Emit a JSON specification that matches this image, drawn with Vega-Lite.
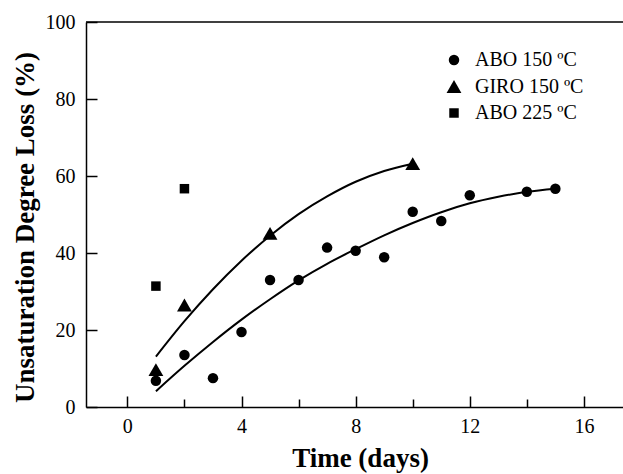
{
  "$schema": "https://vega.github.io/schema/vega-lite/v6.json",
  "width": 537,
  "height": 385,
  "autosize": {"type": "none"},
  "padding": {"left": 86, "top": 22, "right": 0, "bottom": 67},
  "config": {
    "view": {"stroke": null},
    "font": "Liberation Serif",
    "axis": {
      "domainColor": "black",
      "domainWidth": 1.5,
      "tickColor": "black",
      "tickWidth": 1.5,
      "labelColor": "black",
      "labelFontSize": 20,
      "titleFontWeight": "bold",
      "titleColor": "black",
      "grid": false
    }
  },
  "datasets": {
    "points": [
      {"series": "ABO 150 ºC", "time": 1, "loss": 6.8},
      {"series": "ABO 150 ºC", "time": 2, "loss": 13.5},
      {"series": "ABO 150 ºC", "time": 3, "loss": 7.5},
      {"series": "ABO 150 ºC", "time": 4, "loss": 19.5},
      {"series": "ABO 150 ºC", "time": 5, "loss": 33.0},
      {"series": "ABO 150 ºC", "time": 6, "loss": 33.0},
      {"series": "ABO 150 ºC", "time": 7, "loss": 41.4},
      {"series": "ABO 150 ºC", "time": 8, "loss": 40.6},
      {"series": "ABO 150 ºC", "time": 9, "loss": 38.9},
      {"series": "ABO 150 ºC", "time": 10, "loss": 50.7},
      {"series": "ABO 150 ºC", "time": 11, "loss": 48.3},
      {"series": "ABO 150 ºC", "time": 12, "loss": 55.0},
      {"series": "ABO 150 ºC", "time": 14, "loss": 55.9},
      {"series": "ABO 150 ºC", "time": 15, "loss": 56.7},
      {"series": "GIRO 150 ºC", "time": 1, "loss": 9.7},
      {"series": "GIRO 150 ºC", "time": 2, "loss": 26.5},
      {"series": "GIRO 150 ºC", "time": 5, "loss": 45.1},
      {"series": "GIRO 150 ºC", "time": 10, "loss": 63.2},
      {"series": "ABO 225 ºC", "time": 1, "loss": 31.4},
      {"series": "ABO 225 ºC", "time": 2, "loss": 56.7}
    ],
    "fits": [
      {"series": "ABO 150 ºC", "time": 1, "loss": 4.1},
      {"series": "ABO 150 ºC", "time": 2, "loss": 10.7},
      {"series": "ABO 150 ºC", "time": 3, "loss": 16.9},
      {"series": "ABO 150 ºC", "time": 4, "loss": 22.7},
      {"series": "ABO 150 ºC", "time": 5, "loss": 28.0},
      {"series": "ABO 150 ºC", "time": 6, "loss": 32.9},
      {"series": "ABO 150 ºC", "time": 7, "loss": 37.2},
      {"series": "ABO 150 ºC", "time": 8, "loss": 41.0},
      {"series": "ABO 150 ºC", "time": 9, "loss": 44.6},
      {"series": "ABO 150 ºC", "time": 10, "loss": 47.8},
      {"series": "ABO 150 ºC", "time": 11, "loss": 50.6},
      {"series": "ABO 150 ºC", "time": 12, "loss": 52.9},
      {"series": "ABO 150 ºC", "time": 13, "loss": 54.6},
      {"series": "ABO 150 ºC", "time": 14, "loss": 55.9},
      {"series": "ABO 150 ºC", "time": 15, "loss": 56.7},
      {"series": "GIRO 150 ºC", "time": 1, "loss": 13.1},
      {"series": "GIRO 150 ºC", "time": 2, "loss": 22.3},
      {"series": "GIRO 150 ºC", "time": 3, "loss": 30.6},
      {"series": "GIRO 150 ºC", "time": 4, "loss": 38.0},
      {"series": "GIRO 150 ºC", "time": 5, "loss": 44.5},
      {"series": "GIRO 150 ºC", "time": 6, "loss": 50.1},
      {"series": "GIRO 150 ºC", "time": 7, "loss": 54.7},
      {"series": "GIRO 150 ºC", "time": 8, "loss": 58.5},
      {"series": "GIRO 150 ºC", "time": 9, "loss": 61.3},
      {"series": "GIRO 150 ºC", "time": 10, "loss": 63.2}
    ],
    "frame": [{"top": 100}]
  },
  "layer": [
    {
      "data": {"name": "frame"},
      "mark": {"type": "rule", "color": "black", "strokeWidth": 1.5},
      "encoding": {
        "y": {"field": "top", "type": "quantitative", "scale": {"domain": [0, 100], "nice": false}}
      }
    },
    {
      "data": {"name": "fits"},
      "mark": {"type": "line", "color": "black", "strokeWidth": 2, "interpolate": "monotone"},
      "encoding": {
        "x": {"field": "time", "type": "quantitative"},
        "y": {"field": "loss", "type": "quantitative"},
        "detail": {"field": "series"}
      }
    },
    {
      "data": {"name": "points"},
      "mark": {"type": "point", "filled": true, "color": "black", "opacity": 1},
      "encoding": {
        "x": {
          "field": "time",
          "type": "quantitative",
          "scale": {"domain": [-1.45, 17.37], "nice": false, "zero": false},
          "axis": {
            "title": "Time (days)",
            "values": [0, 2, 4, 6, 8, 10, 12, 14, 16],
            "labelExpr": "datum.value % 4 === 0 ? datum.label : ''",
            "tickSize": {"condition": {"test": "datum.value % 4 === 0", "value": -11}, "value": -8},
            "labelPadding": 20,
            "titleFontSize": 27,
            "titleX": 274,
            "titleY": 59,
            "titleBaseline": "alphabetic"
          }
        },
        "y": {
          "field": "loss",
          "type": "quantitative",
          "scale": {"domain": [0, 100], "nice": false},
          "axis": {
            "title": "Unsaturation Degree Loss (%)",
            "values": [0, 10, 20, 30, 40, 50, 60, 70, 80, 90, 100],
            "labelExpr": "datum.value % 20 === 0 ? datum.label : ''",
            "tickSize": {"condition": {"test": "datum.value % 20 === 0", "value": -11}, "value": -7},
            "labelPadding": 22,
            "titleFontSize": 27,
            "titleX": -53,
            "titleY": 205,
            "titleAngle": -90,
            "titleAlign": "center",
            "titleBaseline": "alphabetic"
          }
        },
        "shape": {
          "field": "series",
          "type": "nominal",
          "scale": {"domain": ["ABO 150 ºC", "GIRO 150 ºC", "ABO 225 ºC"], "range": ["circle", "triangle-up", "square"]},
          "legend": {
            "title": null,
            "orient": "none",
            "legendX": 358,
            "legendY": 28,
            "padding": 0,
            "labelFontSize": 20,
            "labelColor": "black",
            "labelOffset": 11,
            "rowPadding": 6.5,
            "symbolFillColor": "black",
            "symbolStrokeWidth": 0,
            "symbolOpacity": 1
          }
        },
        "size": {
          "field": "series",
          "type": "nominal",
          "scale": {"type": "ordinal", "domain": ["ABO 150 ºC", "GIRO 150 ºC", "ABO 225 ºC"], "range": [110, 220, 90]},
          "legend": {
            "title": null,
            "orient": "none",
            "legendX": 358,
            "legendY": 28,
            "padding": 0,
            "labelFontSize": 20,
            "labelColor": "black",
            "labelOffset": 11,
            "rowPadding": 6.5,
            "symbolFillColor": "black",
            "symbolStrokeWidth": 0,
            "symbolOpacity": 1
          }
        }
      }
    }
  ]
}
